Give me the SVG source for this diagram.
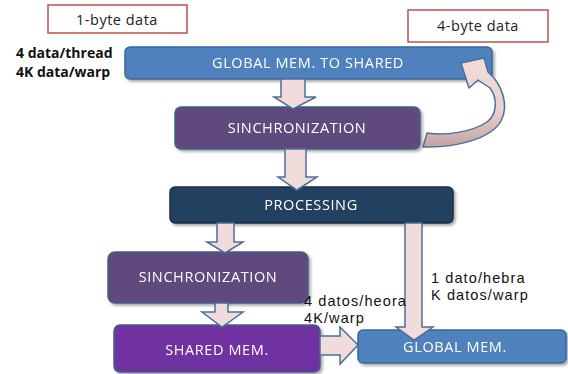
<svg xmlns="http://www.w3.org/2000/svg" width="568" height="374" viewBox="0 0 568 374">
<defs>
<filter id="sh" x="-10%" y="-20%" width="130%" height="160%">
<feGaussianBlur in="SourceAlpha" stdDeviation="1.5"/>
<feOffset dx="1.5" dy="2" result="o"/>
<feComponentTransfer><feFuncA type="linear" slope="0.35"/></feComponentTransfer>
<feMerge><feMergeNode/><feMergeNode in="SourceGraphic"/></feMerge>
</filter>
<linearGradient id="cg" x1="0" y1="0" x2="0" y2="1">
<stop offset="0" stop-color="#f2dcdb"/>
<stop offset="0.6" stop-color="#e8d0ce"/>
<stop offset="1" stop-color="#c4a3a1"/>
</linearGradient>
</defs>
<style>
.lbl{fill:#fff;stroke:#c0504d;stroke-width:1.5}
.lt{font-family:"Open Sans","Liberation Sans",sans-serif;font-size:14.5px;letter-spacing:0.5px;fill:#222;text-anchor:middle}
.box{stroke-width:1.5}
.bt{font-family:"Open Sans","Liberation Sans",sans-serif;font-size:14.5px;letter-spacing:0.6px;fill:#fff;text-anchor:middle}
.note{font-family:"Open Sans","Liberation Sans",sans-serif;font-size:14px;font-weight:bold;fill:#111}
.note2{font-family:"Liberation Sans",Arial,sans-serif;font-size:14.5px;letter-spacing:1.1px;fill:#111}
.arr{fill:#f2dcdb;stroke:#4a6f9a;stroke-width:1.5;stroke-linejoin:miter}
</style>
<rect width="568" height="374" fill="#fff"/>

<g id="label-1byte"><rect class="lbl" x="48" y="5" width="139" height="28"/><text class="lt" x="117" y="25">1-byte data</text></g>
<g id="label-4byte"><rect class="lbl" x="408" y="10" width="140" height="32"/><text class="lt" x="478" y="31">4-byte data</text></g>
<g id="note-left"><text class="note" x="16" y="58">4 data/thread</text><text class="note" x="16" y="77">4K data/warp</text></g>

<g id="global-to-shared" filter="url(#sh)"><rect class="box" x="125" y="47" width="367" height="32" rx="5" fill="#4f81bd" stroke="#3a679b"/><text class="bt" x="308" y="68">GLOBAL MEM. TO SHARED</text></g>
<g id="sync1" filter="url(#sh)"><rect class="box" x="175" y="107" width="245" height="42" rx="6" fill="#604a7b" stroke="#3f5f8a"/><text class="bt" x="297" y="133">SINCHRONIZATION</text></g>
<g id="processing" filter="url(#sh)"><rect class="box" x="170" y="187" width="283" height="36" rx="5" fill="#243f60" stroke="#1a2f4a"/><text class="bt" x="311" y="210">PROCESSING</text></g>
<g id="sync2" filter="url(#sh)"><rect class="box" x="108" y="252" width="200" height="51" rx="7" fill="#604a7b" stroke="#3f5f8a"/><text class="bt" x="208" y="282">SINCHRONIZATION</text></g>
<g id="shared-mem" filter="url(#sh)"><rect class="box" x="114" y="325" width="206" height="47" rx="6" fill="#7030a0" stroke="#3f5f8a"/><text class="bt" x="217" y="355">SHARED MEM.</text></g>
<g id="global-mem" filter="url(#sh)"><rect class="box" x="358" y="330" width="208" height="33" rx="5" fill="#4f81bd" stroke="#3a679b"/><text class="bt" x="455" y="352">GLOBAL MEM.</text></g>

<g id="connectors">
<polygon class="arr" points="281,79 305,79 305,97 316,97 293,109 274,97 281,97"/>
<polygon class="arr" points="285,149 306,149 306,177 317,177 297,190 278,177 285,177"/>
<polygon class="arr" points="217,223 234,223 234,242 243,242 225,253 207,242 217,242"/>
<polygon class="arr" points="215,303 228,303 228,312 243,312 222,327 202,312 215,312"/>
<polygon class="arr" points="405,223 422,223 422,327 433,327 414,340 396,327 405,327"/>
<polygon class="arr" points="320,336 340,336 340,327 358,345 340,364 340,355 320,355"/>
<path d="M427,133 C445,136 472,132 487,122 C498,114 497,97 490,88 L478,80 L469,88 L461,63 L484,58 L488,72 C503,85 509,106 501,121 C491,139 455,148 423,147 Z" fill="url(#cg)" stroke="#4a6f9a" stroke-width="1.5" stroke-linejoin="round"/>
</g>

<g id="notes"><text class="note2" x="431" y="283">1 dato/hebra</text><text class="note2" x="431" y="300">K datos/warp</text><text class="note2" x="304" y="306">4 datos/heora</text><text class="note2" x="304" y="323">4K/warp</text></g>
</svg>
